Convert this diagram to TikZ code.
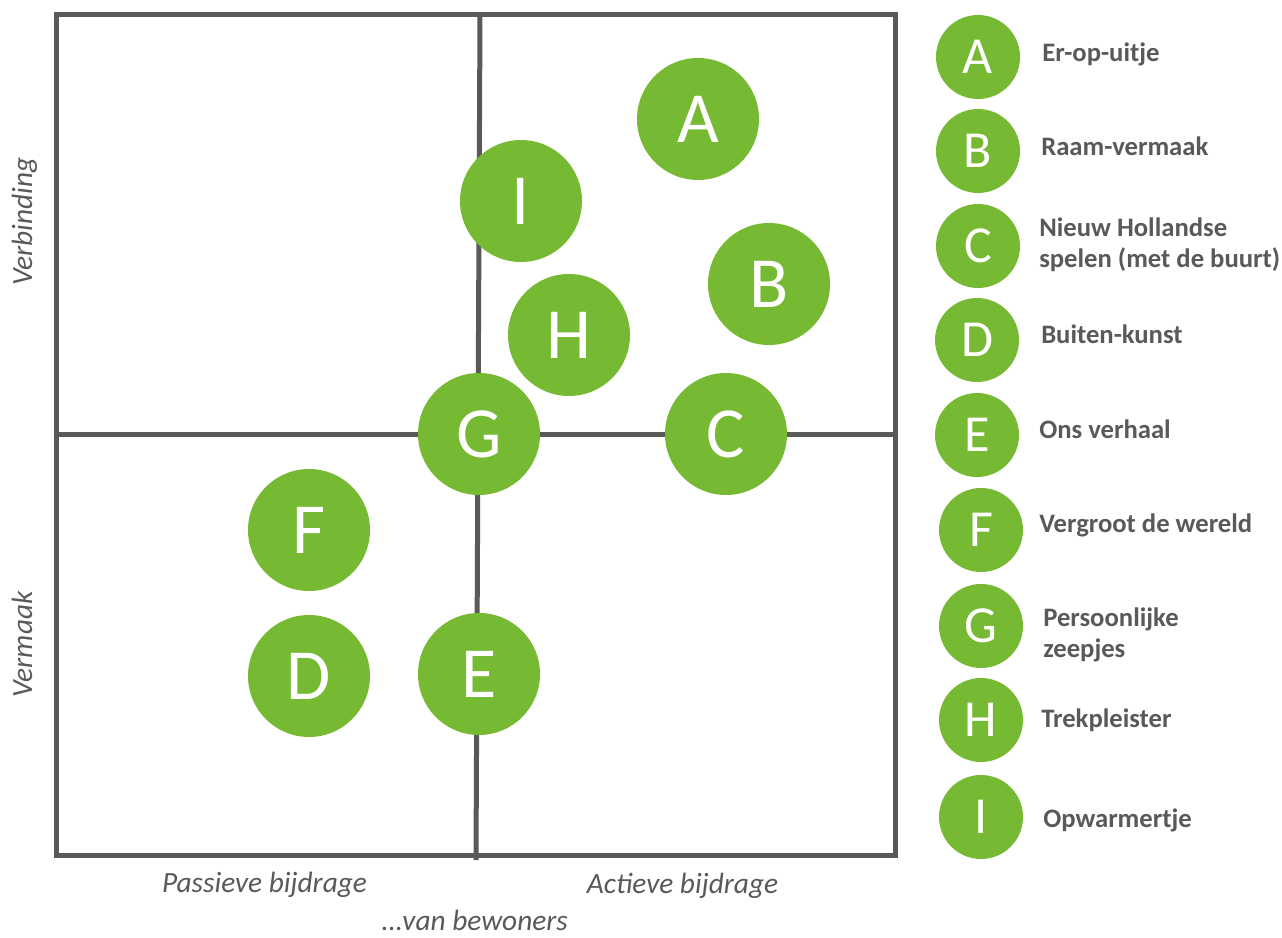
\documentclass[tikz,border=0pt]{standalone}
\usepackage{fontspec}
\setmainfont{Carlito}
\definecolor{grn}{HTML}{76B932}
\definecolor{gry}{HTML}{595959}
\begin{document}
\begin{tikzpicture}[x=0.75pt,y=-0.75pt,
  big/.style={circle,fill=grn,minimum size=91.5pt,inner sep=0pt,text=white,font=\fontsize{54}{54}\selectfont},
  small/.style={circle,fill=grn,minimum size=63pt,inner sep=0pt,text=white,font=\fontsize{39}{39}\selectfont},
  lab/.style={anchor=base west,inner sep=0pt,text=gry,font=\bfseries\fontsize{20}{23.25}\selectfont},
  axislab/.style={anchor=base,inner sep=0pt,text=gry,font=\itshape\fontsize{22}{24}\selectfont},
  frame/.style={draw=gry,line width=3.75pt}]
\useasboundingbox (0,0) rectangle (1282,938);
% quadrant frame
\coordinate (tl) at (56,15);
\coordinate (br) at (895,855);
\coordinate (vt) at (480,15);
\coordinate (vb) at (476,860);
\coordinate (hl) at (56,434);
\coordinate (hr) at (895,434);
\draw[frame] (tl) rectangle (br);
\draw[frame] (vt) -- (vb);
\draw[frame] (hl) -- (hr);
% plotted items
\node[big] (pA) at (698,119) {A};
\node[big] (pI) at (521,201) {I};
\node[big] (pB) at (769,284) {B};
\node[big] (pH) at (569,335) {H};
\node[big] (pG) at (479,434) {G};
\node[big] (pC) at (726,434) {C};
\node[big] (pF) at (309,530) {F};
\node[big] (pD) at (309,676) {D};
\node[big] (pE) at (479,674) {E};
% legend
\node[small] (lA) at (978,57) {A};
\node[small] (lB) at (978,151) {B};
\node[small] (lC) at (978,246) {C};
\node[small] (lD) at (977,340) {D};
\node[small] (lE) at (977,435) {E};
\node[small] (lF) at (981,530) {F};
\node[small] (lG) at (981,626) {G};
\node[small] (lH) at (981,720) {H};
\node[small] (lI) at (981,817) {I};
\node[lab] (tA) at (1042,62) {Er-op-uitje};
\node[lab] (tB) at (1041,156) {Raam-vermaak};
\node[lab] (tC) at (1039,237) {\begin{tabular}[t]{@{}l@{}}Nieuw Hollandse\\spelen (met de buurt)\end{tabular}};
\node[lab] (tD) at (1041,343) {Buiten-kunst};
\node[lab] (tE) at (1039,438) {Ons verhaal};
\node[lab] (tF) at (1039,532) {Vergroot de wereld};
\node[lab] (tG) at (1043,626) {\begin{tabular}[t]{@{}l@{}}Persoonlijke\\zeepjes\end{tabular}};
\node[lab] (tH) at (1041,727) {Trekpleister};
\node[lab] (tI) at (1043,827) {Opwarmertje};
% axis labels
\node[axislab,rotate=90] (yV) at (32,221.5) {Verbinding};
\node[axislab,rotate=90] (yM) at (32,644.5) {Vermaak};
\node[axislab] (xP) at (264.5,892) {Passieve bijdrage};
\node[axislab] (xA) at (682.5,893) {Actieve bijdrage};
\node[axislab] (xB) at (475,930) {…van bewoners};
\end{tikzpicture}
\end{document}
